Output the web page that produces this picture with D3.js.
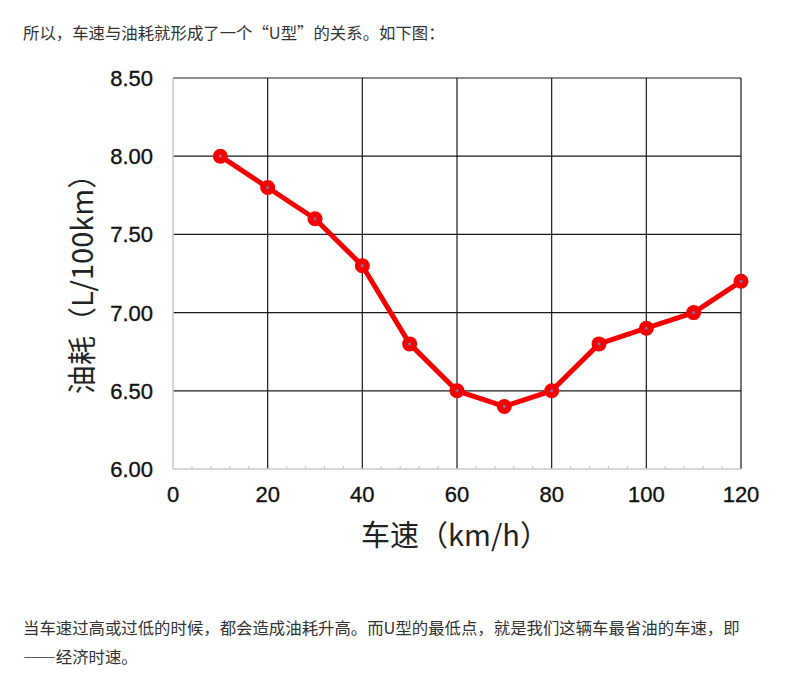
<!DOCTYPE html>
<html>
<head>
<meta charset="utf-8">
<script src="https://cdn.jsdelivr.net/npm/d3@7"></script>
<style>
  body { margin: 0; background: #fff; }
  svg text { font-family: "Liberation Sans", Arial, sans-serif; }
  .para { font-family: "Noto Sans CJK SC", sans-serif; font-size: 16.4px; fill: #333; }
  .fw { font-feature-settings: "fwid"; }
</style>
</head>
<body>
<svg id="chart" width="797" height="682"></svg>
<script>
// speed (km/h) vs fuel use (L/100km)
var speeds = [10, 20, 30, 40, 50, 60, 70, 80, 90, 100, 110, 120];
var fuel = [8.0, 7.8, 7.6, 7.3, 6.8, 6.5, 6.4, 6.5, 6.8, 6.9, 7.0, 7.2];
var xTicks = [0, 20, 40, 60, 80, 100, 120];
var yTicks = [6.0, 6.5, 7.0, 7.5, 8.0, 8.5];
var xMinor = d3.range(0, 121, 4);

var svg = d3.select("#chart");

var x = d3.scaleLinear().domain([0, 120]).range([173, 741]);
var y = d3.scaleLinear().domain([6.0, 8.5]).range([469, 78]);

// text above and below the chart
svg.append("text").attr("class", "para")
  .attr("x", 23).attr("y", 39)
  .text("所以，车速与油耗就形成了一个“U型”的关系。如下图：");
svg.append("text").attr("class", "para")
  .attr("x", 23).attr("y", 634)
  .text("当车速过高或过低的时候，都会造成油耗升高。而U型的最低点，就是我们这辆车最省油的车速，即");
var last = svg.append("text").attr("class", "para")
  .attr("x", 23).attr("y", 663);
last.append("tspan").attr("class", "fw").text("——");
last.append("tspan").text("经济时速。");

// gridlines
svg.append("g").selectAll("line")
  .data(yTicks.filter(function(d) { return d > 6.0; }))
  .enter().append("line")
  .attr("x1", x(0)).attr("x2", x(120))
  .attr("y1", function(d) { return y(d); })
  .attr("y2", function(d) { return y(d); })
  .attr("stroke", "#1a1a1a").attr("stroke-width", 1.2);

svg.append("g").selectAll("line")
  .data(xTicks.filter(function(d) { return d > 0; }))
  .enter().append("line")
  .attr("y1", y(6.0)).attr("y2", y(8.5))
  .attr("x1", function(d) { return x(d); })
  .attr("x2", function(d) { return x(d); })
  .attr("stroke", "#1a1a1a").attr("stroke-width", 1.2);

// axis lines (light grey) and minor ticks
svg.append("line")
  .attr("x1", x(0)).attr("x2", x(0))
  .attr("y1", y(6.0)).attr("y2", y(8.5))
  .attr("stroke", "#c8c8c8").attr("stroke-width", 1.5);
svg.append("line")
  .attr("x1", x(0)).attr("x2", x(120))
  .attr("y1", y(6.0)).attr("y2", y(6.0))
  .attr("stroke", "#c8c8c8").attr("stroke-width", 1.5);
svg.append("g").selectAll("line")
  .data(xMinor.filter(function(d) { return d % 20 != 0; }))
  .enter().append("line")
  .attr("x1", function(d) { return x(d); })
  .attr("x2", function(d) { return x(d); })
  .attr("y1", y(6.0)).attr("y2", y(6.0) - 3)
  .attr("stroke", "#c8c8c8").attr("stroke-width", 1.2);

// tick labels
svg.append("g").selectAll("text")
  .data(yTicks)
  .enter().append("text")
  .attr("x", 153)
  .attr("y", function(d) { return y(d) + 8; })
  .attr("text-anchor", "end")
  .attr("font-size", 22)
  .attr("fill", "#111")
  .attr("stroke", "#111").attr("stroke-width", 0.35)
  .text(function(d) { return d.toFixed(2); });

svg.append("g").selectAll("text")
  .data(xTicks)
  .enter().append("text")
  .attr("x", function(d) { return x(d); })
  .attr("y", 502)
  .attr("text-anchor", "middle")
  .attr("font-size", 22)
  .attr("fill", "#111")
  .attr("stroke", "#111").attr("stroke-width", 0.35)
  .text(function(d) { return d; });

// axis titles
svg.append("text")
  .attr("x", 455).attr("y", 546)
  .attr("text-anchor", "middle")
  .attr("font-size", 29)
  .attr("fill", "#222")
  .style("font-family", "'Noto Sans CJK SC', sans-serif")
  .text("车速（km/h）");

svg.append("text")
  .attr("transform", "translate(93,277) rotate(-90)")
  .attr("text-anchor", "middle")
  .attr("font-size", 29)
  .attr("fill", "#222")
  .style("font-family", "'Noto Sans CJK SC', sans-serif")
  .text("油耗（L/100km）");

// series
var line = d3.line()
  .x(function(d, i) { return x(speeds[i]); })
  .y(function(d) { return y(d); });

svg.append("path")
  .datum(fuel)
  .attr("d", line)
  .attr("fill", "none")
  .attr("stroke", "#f40000")
  .attr("stroke-width", 5)
  .attr("stroke-linejoin", "round");

svg.append("g").selectAll("circle")
  .data(fuel)
  .enter().append("circle")
  .attr("cx", function(d, i) { return x(speeds[i]); })
  .attr("cy", function(d) { return y(d); })
  .attr("r", 7.5)
  .attr("fill", "#f40000");

svg.append("g").selectAll("circle")
  .data(fuel)
  .enter().append("circle")
  .attr("cx", function(d, i) { return x(speeds[i]); })
  .attr("cy", function(d) { return y(d); })
  .attr("r", 1.6)
  .attr("fill", "#8a6aa0");
</script>
</body>
</html>
